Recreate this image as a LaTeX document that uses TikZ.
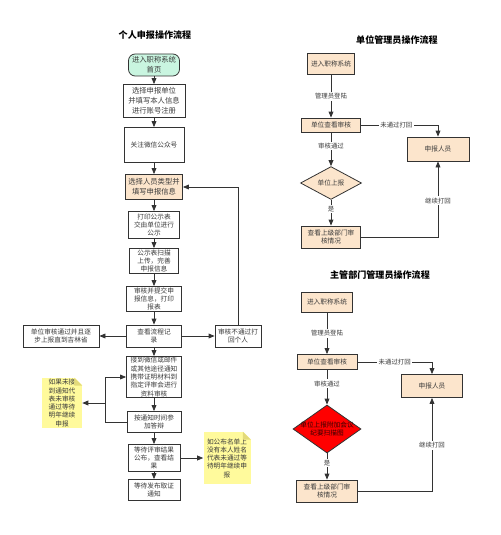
\documentclass[tikz,border=0pt]{standalone}
\usepackage{fontspec}
\setmainfont{Noto Sans CJK SC}
\usetikzlibrary{shapes.geometric,arrows.meta,calc}
\definecolor{ln}{HTML}{333333}
\definecolor{tx}{HTML}{3A3A3A}
\definecolor{mint}{HTML}{C9F5E0}
\definecolor{peach}{HTML}{FCE5CC}
\definecolor{notey}{HTML}{FFFA9C}
\definecolor{notef}{HTML}{E3DA7A}
\definecolor{redd}{HTML}{FF0000}
\begin{document}
\begin{tikzpicture}[x=0.75pt,y=-0.75pt,
  wh/.style 2 args={minimum width=#1*0.75pt,minimum height=#2*0.75pt},
  base/.style={inner sep=0pt,align=center,font=\fontsize{5}{6.2}\selectfont,text=tx},
  big/.style={font=\fontsize{5.5}{7.4}\selectfont},
  box/.style={base,draw=ln,line width=0.6pt,fill=white},
  pbox/.style={box,fill=peach},
  sbox/.style={box,fill=mint,rounded corners=5pt},
  dia/.style={base,diamond,draw=ln,line width=0.6pt,fill=peach},
  notebox/.style={base,fill=notey},
  arr/.style={draw=ln,line width=0.6pt,-{Triangle[length=4.5pt,width=3.6pt]}},
  lbl/.style={base,fill=white,inner sep=1pt,font=\fontsize{4.8}{6}\selectfont},
  ttl/.style={inner sep=0pt,font=\fontsize{6.8}{8}\selectfont\bfseries,text=black}
]
\useasboundingbox (0,0) rectangle (500,535);

% ---------- left: personal flow ----------
\node[ttl] (t1) at (155,35) {个人申报操作流程};
\node[sbox,big,wh={51}{22}] (n1) at (154,65) {进入职称系统\\首页};
\node[box,big,wh={62}{33}] (n2) at (154,101) {选择申报单位\\并填写本人信息\\进行账号注册};
\node[box,wh={60}{35}] (n3) at (154,145) {关注微信公众号};
\node[pbox,big,wh={57}{25}] (n4) at (154,187) {选择人员类型并\\填写申报信息};
\node[box,wh={51}{27}] (n5) at (154,225) {打印公示表\\交由单位进行\\公示};
\node[box,wh={49}{25}] (n6) at (154,261) {公示表扫描\\上传，完善\\申报信息};
\node[box,wh={55}{25}] (n7) at (154,299) {审核并提交申\\报信息，打印\\报表};
\node[box,wh={55}{22}] (n8) at (154,336) {查看流程记\\录};
\node[box,wh={76}{22}] (nl) at (61,336) {单位审核通过并且逐\\步上报直到吉林省};
\node[box,wh={46}{22}] (nr) at (238,336) {审核不通过打\\回个人};
\node[box,wh={55}{41}] (n9) at (154,377) {接到微信或邮件\\或其他途径通知\\携带证明材料到\\指定评审会进行\\资料审核};
\node[box,wh={54}{21}] (n10) at (154,422) {按通知时间参\\加答辩};
\node[box,wh={52}{27}] (n11) at (154,458) {等待评审结果\\公布，查看结\\果};
\node[box,wh={52}{21}] (n12) at (154,490) {等待发布取证\\通知};
\node[notebox,wh={40}{50}] (note1) at (62,403) {如果未接\\到通知代\\表未审核\\通过等待\\明年继续\\申报};
\node[notebox,wh={47}{52}] (note2) at (227,458) {如公布名单上\\没有本人姓名\\代表未通过等\\待明年继续申\\报};
\foreach \nn in {note1,note2}{
  \fill[white] ($(\nn.north east)+(-8,-0.5)$) -- ($(\nn.north east)+(0.5,-0.5)$) -- ($(\nn.north east)+(0.5,8)$) -- cycle;
  \fill[notef] ($(\nn.north east)+(-8,0)$) -- ($(\nn.north east)+(-8,8)$) -- ($(\nn.north east)+(0,8)$) -- cycle;
}
\draw[arr] (n1) -- (n2);
\draw[arr] (n2) -- (n3);
\draw[arr] (n3) -- (n4);
\draw[arr] (n4) -- (n5);
\draw[arr] (n5) -- (n6);
\draw[arr] (n6) -- (n7);
\draw[arr] (n7) -- (n8);
\draw[arr] (n8) -- (nl);
\draw[arr] (n8) -- (nr);
\draw[arr] (nr.north) |- (n4.east);
\draw[arr] (n8) -- (n9);
\draw[arr] (n9) -- (n10);
\draw[arr] (n10) -- (n11);
\draw[arr] (n11) -- (n12);
\draw[arr] (n11) -- (note2);
\coordinate (j1) at (105,422);
\coordinate (j3) at (105,403);
\draw[arr] (n10.west) -- (j1) |- (n9.west);
\draw[arr] (j3) -- (j3 -| note1.east);

% ---------- right top: unit admin ----------
\node[ttl] (t2) at (397,40) {单位管理员操作流程};
\node[pbox,wh={47}{21}] (a1) at (331,64) {进入职称系统};
\node[pbox,wh={59}{14}] (a2) at (331,125) {单位查看审核};
\node[pbox,wh={62}{24}] (a3) at (438,149) {申报人员};
\node[dia,wh={61}{27}] (a4) at (331,183) {单位上报};
\node[pbox,wh={59}{22}] (a5) at (331,237) {查看上级部门审\\核情况};
\draw[arr] (a1) -- node[lbl]{管理员登陆} (a2);
\draw[arr] (a2) -- node[lbl,pos=0.4]{审核通过} (a4);
\draw[arr] (a4) -- node[lbl,pos=0.35]{是} (a5);
\draw[arr] (a2.east) -| node[lbl,pos=0.23]{未通过打回} (a3.north);
\draw[arr] (a5.east) -| node[lbl,pos=0.74]{继续打回} (a3.south);

% ---------- right bottom: department admin ----------
\node[ttl] (t3) at (380,275) {主管部门管理员操作流程};
\node[pbox,wh={51}{20}] (b1) at (327,302) {进入职称系统};
\node[pbox,wh={60}{15}] (b2) at (327,362) {单位查看审核};
\node[pbox,wh={61}{23}] (b3) at (432,386) {申报人员};
\node[diamond,draw=ln,line width=0.6pt,fill=redd,inner sep=0pt,wh={68}{48}] (b4) at (327,429) {};
\node[base,text=black!80!red] (b4t) at (b4.center) {单位上报附加会议\\纪要扫描图};
\node[pbox,wh={61}{22}] (b5) at (327,491) {查看上级部门审\\核情况};
\draw[arr] (b1) -- node[lbl]{管理员登陆} (b2);
\draw[arr] (b2) -- node[lbl,pos=0.4]{审核通过} (b4);
\draw[arr] (b4) -- node[lbl,pos=0.37]{是} (b5);
\draw[arr] (b2.east) -| node[lbl,pos=0.25]{未通过打回} (b3.north);
\draw[arr] (b5.east) -| node[lbl,pos=0.745]{继续打回} (b3.south);
\end{tikzpicture}
\end{document}
